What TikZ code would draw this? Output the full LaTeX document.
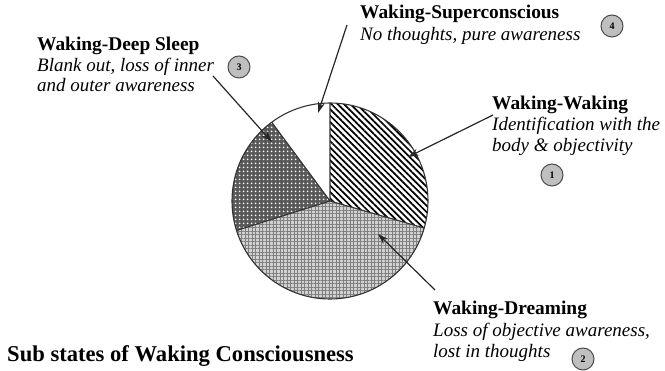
\documentclass[tikz,border=0pt]{standalone}
\usepackage{fontspec}
\setmainfont{Liberation Serif}
\usetikzlibrary{patterns.meta,arrows.meta}
\begin{document}
\begin{tikzpicture}[x=1pt,y=-1pt,
  head/.style={font=\fontsize{19.4}{21}\selectfont\bfseries, anchor=base west, inner sep=0pt},
  desc/.style={font=\fontsize{19}{21}\selectfont\itshape, anchor=base west, inner sep=0pt},
  titlestyle/.style={font=\fontsize{22.6}{24}\selectfont\bfseries, anchor=base west, inner sep=0pt},
  num/.style={circle, draw=black!70, fill=black!25, line width=1pt, minimum size=22pt, inner sep=0pt, font=\fontsize{10}{10}\selectfont\bfseries},
  pointer/.style={draw=black!85, line width=1.2pt, -{Stealth[length=11pt,width=7pt]}},
  edge/.style={draw=black!80, line width=1.1pt},
]
\useasboundingbox (0,0) rectangle (665,371);

% pie
\begin{scope}[shift={(330,201)}, y=1pt]
  % Waking-Waking
  \fill[pattern={Lines[angle=-45,distance=4.5pt,line width=1.7pt]}, pattern color=black]
    (0,0) -- (-16:98) arc[start angle=-16,end angle=90,radius=98] -- cycle;
  % Deep sleep
  \fill[black!65] (0,0) -- (126.5:98) arc[start angle=126.5,end angle=197.5,radius=98] -- cycle;
  \fill[pattern={Dots[radius=1.1pt,distance=4pt]}, pattern color=white]
    (0,0) -- (126.5:98) arc[start angle=126.5,end angle=197.5,radius=98] -- cycle;
  % Dreaming
  \fill[black!18] (0,0) -- (197.5:98) arc[start angle=197.5,end angle=344,radius=98] -- cycle;
  \fill[pattern={Hatch[angle=0,distance=3.5pt,line width=0.6pt]}, pattern color=black!50]
    (0,0) -- (197.5:98) arc[start angle=197.5,end angle=344,radius=98] -- cycle;
  % outline and separators
  \draw[edge] (0,0) circle[radius=98];
  \draw[edge] (90:98) -- (0,0) -- (-16:98);
  \draw[edge] (0,0) -- (197.5:98);
  \draw[edge] (0,0) -- (126.5:98);
  % targets
  \coordinate (tWW) at (78,44);
  \coordinate (tSC) at (-12,88);
  \coordinate (tDS) at (-58,59);
  \coordinate (tDR) at (48,-33);
\end{scope}

% labels
\node[head] (dsH) at (37,51) {Waking-Deep Sleep};
\node[desc] (dsA) at (37,72) {Blank out, loss of inner};
\node[desc] (dsB) at (37,92) {and outer awareness};

\node[head] (scH) at (360,19) {Waking-Superconscious};
\node[desc] (scA) at (360,41) {No thoughts, pure awareness};

\node[head] (wwH) at (492,110) {Waking-Waking};
\node[desc] (wwA) at (492,131) {Identification with the};
\node[desc] (wwB) at (492,152) {body \& objectivity};

\node[head] (drH) at (433,315) {Waking-Dreaming};
\node[desc] (drA) at (433,337) {Loss of objective awareness,};
\node[desc] (drB) at (433,358) {lost in thoughts};

\node[titlestyle] (title) at (7,362) {Sub states of Waking Consciousness};

% number badges
\node[num] (n3) at (239,67) {3};
\node[num] (n4) at (612,26) {4};
\node[num] (n1) at (552,175) {1};
\node[num] (n2) at (583,359) {2};

% arrow sources
\coordinate (sDS) at (213,76);
\coordinate (sSC) at (347,25);
\coordinate (sWW) at (493,115);
\coordinate (sDR) at (435,290);

\draw[pointer] (sDS) -- (tDS);
\draw[pointer] (sSC) -- (tSC);
\draw[pointer] (sWW) -- (tWW);
\draw[pointer] (sDR) -- (tDR);
\end{tikzpicture}
\end{document}
